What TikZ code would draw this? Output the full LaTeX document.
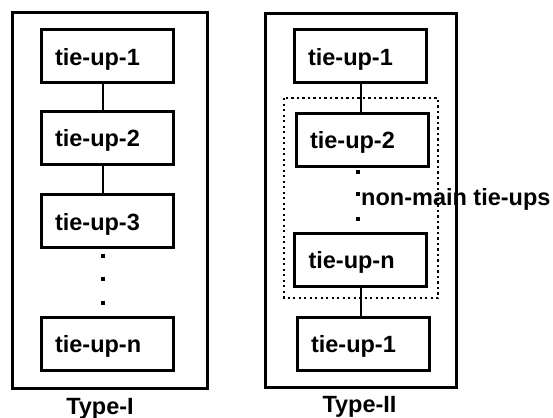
\documentclass[tikz,border=0pt]{standalone}
\usepackage{fontspec}
\setmainfont{Liberation Sans}
\tikzset{
    tiebox/.style={draw, line width=3pt, minimum width=132pt, minimum height=53pt,
        text width=104pt, inner xsep=14pt, align=left, text height=18.8pt, text depth=0pt,
        font=\fontsize{23.5}{28}\selectfont\bfseries},
    typelabel/.style={inner sep=0pt, font=\fontsize{23.5}{28}\selectfont\bfseries},
    tieline/.style={line width=2.5pt}
}
\begin{document}
\begin{tikzpicture}
    \useasboundingbox (0pt,0pt) rectangle (553pt,-417pt);
    \draw[line width=3pt] (12pt,-13pt) rectangle (207pt,-388pt);
    \draw[line width=3pt] (265pt,-14pt) rectangle (456pt,-387pt);
    \coordinate (lcol) at (103pt,0pt);
    \coordinate (rcol) at (361pt,0pt);
    \node[tiebox] (la1) at (107pt,-56.5pt) {tie-up-1};
    \node[tiebox] (la2) at (107pt,-137.5pt) {tie-up-2};
    \node[tiebox] (la3) at (107pt,-221pt) {tie-up-3};
    \node[tiebox] (lan) at (107pt,-343.5pt) {tie-up-n};
    \draw[tieline] (la1.south -| lcol) -- (la2.north -| lcol);
    \draw[tieline] (la2.south -| lcol) -- (la3.north -| lcol);
    \foreach \y in {256,279,303}
        \fill[shift={(103pt,-\y*1pt)}] (-1.6pt,-1.6pt) rectangle (1.6pt,1.6pt);
    \node[typelabel, anchor=base] (typeI) at (100pt,-414pt) {Type-I};
    \draw[line width=2.4pt, dash pattern=on 2.4pt off 3.1pt] (284pt,-98pt) rectangle (438pt,-298pt);
    \node[tiebox] (rb1) at (360pt,-56pt) {tie-up-1};
    \node[tiebox] (rb2) at (362pt,-139.5pt) {tie-up-2};
    \node[tiebox] (rbn) at (360.5pt,-259.5pt) {tie-up-n};
    \node[tiebox] (rbl) at (363pt,-343.5pt) {tie-up-1};
    \draw[tieline] (rb1.south -| rcol) -- (rb2.north -| rcol);
    \draw[tieline] (rbn.south -| rcol) -- (rbl.north -| rcol);
    \foreach \y in {172,194,219}
        \fill[shift={(358pt,-\y*1pt)}] (-1.6pt,-1.6pt) rectangle (1.6pt,1.6pt);
    \node[typelabel, anchor=base west] (nonmain) at (361pt,-205pt) {non-main tie-ups};
    \node[typelabel, anchor=base] (typeII) at (359.5pt,-412pt) {Type-II};
\end{tikzpicture}
\end{document}
